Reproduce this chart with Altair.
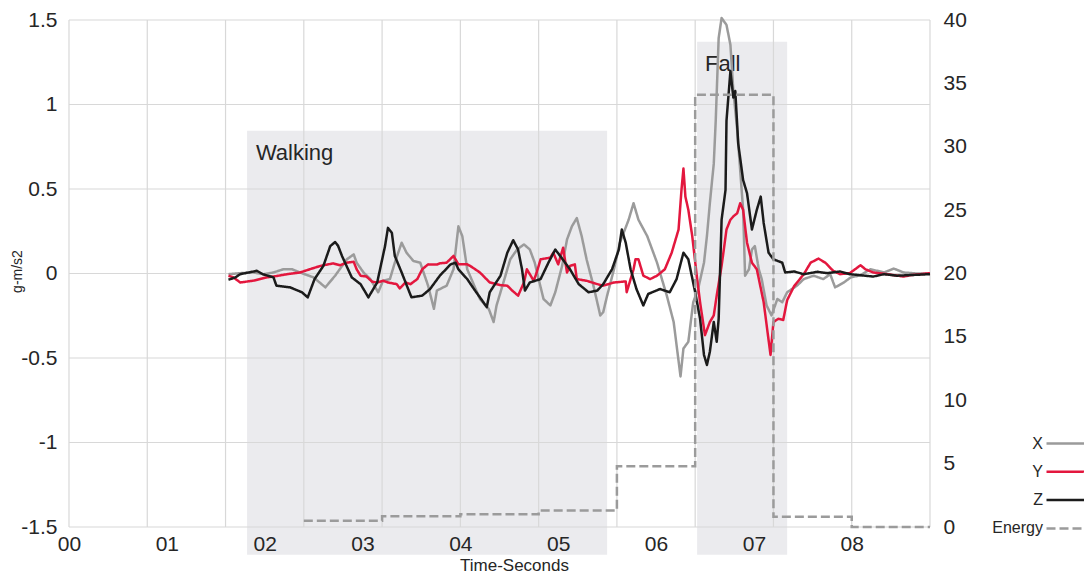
import altair as alt
import pandas as pd

FONT = "Liberation Sans"
TXT = "#262626"

# ---- accelerometer series (time in s, value in g-m/s2) ----
x_t = [1.63,1.75,1.88,1.99,2.09,2.19,2.28,2.36,2.50,2.62,
       2.72,2.84,2.91,2.94,3.01,3.08,3.16,3.21,3.28,3.33,
       3.40,3.45,3.52,3.59,3.67,3.73,3.76,3.86,3.93,3.98,
       4.02,4.07,4.20,4.29,4.34,4.37,4.44,4.51,4.58,4.65,
       4.71,4.76,4.80,4.85,4.92,4.97,5.04,5.09,5.14,5.19,
       5.24,5.29,5.36,5.43,5.46,5.50,5.57,5.63,5.72,5.77,
       5.82,5.91,6.01,6.11,6.18,6.25,6.28,6.33,6.38,6.43,
       6.49,6.52,6.55,6.59,6.61,6.64,6.67,6.72,6.76,6.79,
       6.83,6.86,6.89,6.91,6.95,6.98,7.01,7.05,7.08,7.13,
       7.18,7.24,7.29,7.34,7.44,7.51,7.61,7.71,7.78,7.83,
       7.92,7.99,8.09,8.19,8.26,8.33,8.43,8.53,8.67,8.80]
x_v = [-0.004,0.002,0.006,-0.004,0.006,0.025,0.025,0.006,-0.023,-0.082,
       -0.013,0.084,0.113,0.064,0.006,-0.033,-0.111,-0.043,-0.033,0.064,
       0.182,0.123,0.074,0.064,-0.072,-0.209,-0.101,-0.072,0.025,0.279,
       0.221,0.025,-0.151,-0.209,-0.287,-0.189,-0.053,0.084,0.142,0.172,
       0.142,0.064,-0.033,-0.151,-0.189,-0.111,0.045,0.201,0.279,0.328,
       0.221,0.084,-0.072,-0.248,-0.229,-0.131,0.025,0.182,0.318,0.416,
       0.318,0.221,0.064,-0.131,-0.287,-0.609,-0.444,-0.404,-0.170,-0.092,
       0.064,0.221,0.416,0.650,0.904,1.393,1.512,1.471,1.354,1.080,
       0.846,0.611,0.377,-0.013,0.025,0.142,0.162,0.025,-0.033,-0.189,
       -0.248,-0.151,-0.170,-0.111,-0.072,-0.033,-0.013,-0.033,-0.004,-0.082,
       -0.053,-0.023,-0.010,0.025,0.016,0.006,0.029,0.006,0.000,0.000]

y_t = [1.63,1.68,1.75,1.88,2.02,2.09,2.23,2.36,2.46,2.57,
       2.70,2.77,2.84,2.91,2.94,2.98,3.04,3.10,3.15,3.21,
       3.26,3.35,3.38,3.44,3.49,3.56,3.61,3.67,3.76,3.79,
       3.86,3.93,3.98,4.07,4.10,4.20,4.30,4.41,4.48,4.53,
       4.59,4.65,4.68,4.75,4.78,4.82,4.92,4.95,5.00,5.05,
       5.09,5.12,5.17,5.19,5.29,5.40,5.46,5.57,5.69,5.70,
       5.77,5.79,5.82,5.87,5.94,6.01,6.09,6.16,6.23,6.26,
       6.28,6.30,6.33,6.37,6.42,6.45,6.50,6.55,6.59,6.62,
       6.67,6.72,6.76,6.79,6.83,6.86,6.89,6.93,6.98,7.03,
       7.10,7.17,7.20,7.25,7.30,7.34,7.41,7.51,7.58,7.66,
       7.73,7.81,7.88,7.98,8.09,8.14,8.22,8.36,8.53,8.60,
       8.80]
y_v = [-0.013,-0.023,-0.053,-0.043,-0.023,-0.018,-0.004,0.006,0.025,0.045,
       0.060,0.049,0.064,0.069,0.025,-0.013,-0.018,-0.049,-0.053,-0.043,
       -0.053,-0.063,-0.088,-0.053,-0.063,-0.033,0.025,0.054,0.053,0.060,
       0.064,0.104,0.054,0.054,0.045,0.006,-0.053,-0.069,-0.072,-0.101,
       -0.131,-0.053,0.025,-0.043,0.006,0.084,0.094,0.123,0.054,0.152,
       0.006,0.045,0.054,-0.033,-0.043,-0.063,-0.072,-0.053,-0.047,-0.111,
       0.025,0.084,0.084,-0.013,-0.033,-0.013,0.025,0.123,0.260,0.494,
       0.621,0.455,0.377,0.221,-0.033,-0.170,-0.365,-0.287,-0.248,-0.131,
       0.045,0.260,0.318,0.338,0.357,0.416,0.377,0.182,0.064,0.025,
       -0.170,-0.482,-0.287,-0.268,-0.275,-0.158,-0.076,-0.004,0.064,0.088,
       0.064,0.016,-0.004,0.002,0.049,0.025,0.006,-0.004,-0.018,-0.010,
       0.002]

z_t = [1.63,1.70,1.75,1.92,1.98,2.09,2.12,2.26,2.38,2.44,
       2.51,2.60,2.67,2.72,2.75,2.79,2.89,2.98,3.06,3.15,
       3.23,3.26,3.30,3.33,3.40,3.50,3.61,3.69,3.79,3.90,
       3.95,3.98,4.07,4.15,4.20,4.27,4.30,4.41,4.48,4.54,
       4.59,4.63,4.66,4.71,4.82,4.90,4.97,5.02,5.12,5.21,
       5.31,5.40,5.46,5.55,5.62,5.65,5.69,5.74,5.80,5.87,
       5.92,6.04,6.14,6.21,6.28,6.33,6.40,6.45,6.49,6.52,
       6.55,6.59,6.62,6.64,6.67,6.71,6.72,6.76,6.79,6.81,
       6.84,6.89,6.93,6.98,7.03,7.07,7.10,7.15,7.20,7.29,
       7.32,7.41,7.51,7.65,7.75,7.88,7.98,8.22,8.33,8.46,
       8.80]
z_v = [-0.037,-0.023,-0.004,0.016,-0.004,-0.023,-0.072,-0.082,-0.111,-0.141,
       -0.033,0.045,0.162,0.186,0.164,0.104,-0.023,-0.063,-0.141,-0.053,
       0.162,0.270,0.240,0.104,0.006,-0.141,-0.131,-0.092,-0.013,0.054,
       0.064,0.025,-0.033,-0.101,-0.141,-0.199,-0.111,-0.013,0.123,0.197,
       0.142,0.025,-0.101,-0.053,-0.033,0.064,0.142,0.104,0.025,-0.063,
       -0.111,-0.101,-0.063,0.025,0.142,0.260,0.182,0.025,-0.092,-0.189,
       -0.121,-0.092,-0.111,-0.033,0.123,0.084,-0.111,-0.268,-0.482,-0.541,
       -0.463,-0.287,-0.404,-0.268,0.318,0.494,0.904,1.197,1.041,1.080,
       0.768,0.553,0.475,0.260,0.377,0.455,0.299,0.123,0.084,0.064,
       0.006,0.012,-0.004,0.010,0.002,0.012,-0.004,-0.018,-0.004,-0.013,
       -0.004]

# ---- energy (right axis), step values per 0.8 s window ----
energy_t = [2.4, 3.2, 4.0, 4.8, 5.6, 6.4, 7.2, 8.0, 8.8]
energy_v = [0.5, 0.85, 1.0, 1.3, 4.8, 34.1, 0.8, 0.0, 0.0]

# ---- legend / series styling ----
series_names = ["X", "Y", "Z", "Energy"]
series_colors = ["#9b9b9b", "#e3173e", "#1b1b1b", "#9b9b9b"]
series_dash = [[1, 0], [1, 0], [1, 0], [9, 4]]

# ---- shaded activity regions ----
region_names = ["Walking", "Fall"]
region_start = [1.82, 6.42]
region_end = [5.50, 7.34]
region_top = [0.844, 1.371]
region_bottom = [-1.664, -1.664]
label_t = [1.91, 6.50]
label_v = [0.674, 1.201]

# ---- axes ----
grid_x = [0.0, 0.8, 1.6, 2.4, 3.2, 4.0, 4.8, 5.6, 6.4, 7.2, 8.0, 8.8]
grid_y = [-1.5, -1.0, -0.5, 0.0, 0.5, 1.0, 1.5]
x_ticks = [0, 1, 2, 3, 4, 5, 6, 7, 8]
e_ticks = [0, 5, 10, 15, 20, 25, 30, 35, 40]

lines_df = pd.concat([
    pd.DataFrame({"t": x_t, "v": x_v, "series": "X"}),
    pd.DataFrame({"t": y_t, "v": y_v, "series": "Y"}),
    pd.DataFrame({"t": z_t, "v": z_v, "series": "Z"}),
], ignore_index=True)
energy_df = pd.DataFrame({"t": energy_t, "e": energy_v, "series": "Energy"})
regions_df = pd.DataFrame({"name": region_names, "t0": region_start, "t1": region_end,
                           "v1": region_top, "v0": region_bottom,
                           "lt": label_t, "lv": label_v})
gx_df = pd.DataFrame({"gx": grid_x})
gy_df = pd.DataFrame({"gy": grid_y})

xscale = alt.Scale(domain=[0, 8.8], nice=False, zero=False)
yscale = alt.Scale(domain=[-1.5, 1.5], nice=False, zero=False)
escale = alt.Scale(domain=[0, 40], nice=False, zero=False)

x_axis = alt.Axis(values=x_ticks, labelExpr="'0' + datum.value", grid=False, ticks=False,
                  domain=False, labelFont=FONT, labelFontSize=21, labelColor=TXT,
                  labelPadding=6, labelFlush=False, labelOverlap=False, zindex=1,
                  titleFont=FONT, titleFontSize=17, titleFontWeight="normal", titleColor=TXT,
                  titleX=445, titleY=43, titleBaseline="alphabetic", titleAlign="center")
y_axis = alt.Axis(values=grid_y, labelExpr="'' + datum.value", grid=False, ticks=False,
                  domain=False, labelFont=FONT, labelFontSize=21, labelColor=TXT,
                  labelPadding=12, labelFlush=False, labelOverlap=False, zindex=1,
                  titleFont=FONT, titleFontSize=14, titleFontWeight="normal", titleColor=TXT,
                  titleX=-52, titleY=251, titleAngle=270, titleAlign="center",
                  titleBaseline="middle")
e_axis = alt.Axis(orient="right", values=e_ticks, grid=False, ticks=False, domain=False,
                  labelFont=FONT, labelFontSize=21, labelColor=TXT, labelAlign="left",
                  labelPadding=13, labelFlush=False, labelOverlap=False)

legend = alt.Legend(orient="none", legendX=986, legendY=412, symbolType="M-2,0H2",
                    symbolSize=400, symbolStrokeWidth=2.5, symbolOffset=0,
                    labelAlign="right", labelOffset={"expr": "-35"}, labelFont=FONT,
                    labelFontSize=16, labelColor=TXT, rowPadding=8.3, padding=0)
color_scale = alt.Scale(domain=series_names, range=series_colors)
dash_scale = alt.Scale(domain=series_names, range=series_dash)

XT = "Time-Seconds"
YT = "g-m/s2"

rects = alt.Chart(regions_df).mark_rect(color="#ebebee").encode(
    x=alt.X("t0:Q", scale=xscale, axis=x_axis, title=XT),
    x2="t1:Q",
    y=alt.Y("v1:Q", scale=yscale, axis=y_axis, title=YT),
    y2="v0:Q",
)
grid_v = alt.Chart(gx_df).mark_rule(color="#d8d8d8", strokeWidth=1.2).encode(
    x=alt.X("gx:Q", scale=xscale, axis=x_axis, title=XT),
)
grid_h = alt.Chart(gy_df).mark_rule(color="#d8d8d8", strokeWidth=1.2).encode(
    y=alt.Y("gy:Q", scale=yscale, axis=y_axis, title=YT),
)
texts = alt.Chart(regions_df).mark_text(align="left", baseline="alphabetic", font=FONT,
                                        fontSize=22, color=TXT).encode(
    x=alt.X("lt:Q", scale=xscale, axis=x_axis, title=XT),
    y=alt.Y("lv:Q", scale=yscale, axis=y_axis, title=YT),
    text="name:N",
)
lines = alt.Chart(lines_df).mark_line(strokeWidth=2.5, strokeJoin="round").encode(
    x=alt.X("t:Q", scale=xscale, axis=x_axis, title=XT),
    y=alt.Y("v:Q", scale=yscale, axis=y_axis, title=YT),
    color=alt.Color("series:N", scale=color_scale, legend=legend, title=None),
    strokeDash=alt.StrokeDash("series:N", scale=dash_scale, legend=legend, title=None),
)
inner = alt.layer(rects, grid_v, grid_h, texts, lines)

energy = alt.Chart(energy_df).mark_line(strokeWidth=2.5, interpolate="step-after").encode(
    x=alt.X("t:Q", scale=xscale, axis=x_axis, title=XT),
    y=alt.Y("e:Q", scale=escale, axis=e_axis, title=None),
    color=alt.Color("series:N", scale=color_scale, legend=legend, title=None),
    strokeDash=alt.StrokeDash("series:N", scale=dash_scale, legend=legend, title=None),
)

chart = alt.layer(inner, energy).resolve_scale(y="independent").properties(
    width=861, height=507,
    autosize=alt.AutoSizeParams(type="none"),
    padding={"left": 61, "top": 12, "right": 154, "bottom": 49},
).configure_view(strokeWidth=0)

chart.save("out.html", embed_options={"renderer": "svg", "actions": False})
